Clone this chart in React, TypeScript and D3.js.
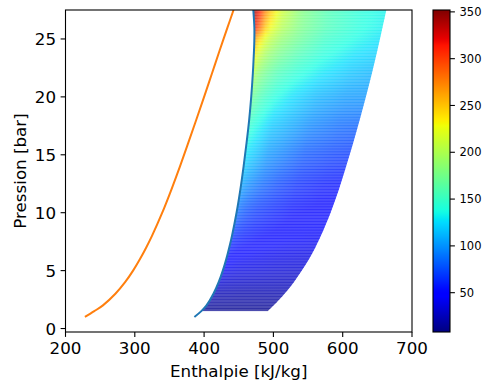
import React from 'react';
import * as d3 from 'd3';

const W = 482;
const H = 383;
const M = { left: 65.5, right: 412, top: 10, bottom: 332 };
const CB = { left: 433, right: 450 };

const xTicks = [200, 300, 400, 500, 600, 700];
const yTicks = [0, 5, 10, 15, 20, 25];
const cbTicks = [50, 100, 150, 200, 250, 300, 350];
const valueMin = 8;
const valueMax = 352;

// saturated liquid line (orange)
const liquidP = [1, 1.5, 2, 3, 4, 5, 6, 7, 8, 10, 12, 14, 16, 18, 20, 22, 24, 26, 27.5];
const liquidH = [228, 241.5, 254, 272, 286, 297.5, 307.5, 316.5, 324.8, 339.6, 352.8, 365.2, 377, 388.6, 400, 411.2, 422.4, 433.8, 442.5];

// saturated vapour line (blue)
const vaporP = [1, 1.5, 2, 3, 4, 5, 6, 7, 8, 10, 12, 14, 16, 18, 20, 22, 24, 25, 26, 27.5];
const vaporH = [386, 396, 403.5, 413.5, 421, 427, 432, 436.3, 440.2, 446.8, 452.3, 457, 461.2, 465, 468, 470.3, 472, 472.5, 472.5, 471];

// right boundary of the coloured region
const rightP = [1.5, 2, 2.5, 3, 3.5, 4, 5, 6, 7, 8, 10, 12, 14, 16, 18, 20, 22, 24, 26, 27.5];
const rightH = [492, 500.5, 508.5, 516, 523, 529.5, 541, 551.5, 560.5, 568.5, 582.5, 594.5, 605, 615, 624.5, 633.5, 642, 650, 657.5, 663];

// coloured field: pressure rows x fractional position between vapour line and right boundary
const gridP = [1.5, 3, 5, 7.5, 10, 12.5, 15, 17.5, 20, 22, 23.5, 25, 26, 27.5];
const gridF = [0, 0.04, 0.1, 0.2, 0.35, 0.55, 0.8, 1];
const gridValues = [
  [12, 12, 11, 11, 11, 11, 11, 11],
  [24, 23, 22, 22, 21, 21, 21, 21],
  [42, 41, 39, 37, 36, 34, 32, 32],
  [63, 60, 56, 53, 49, 46, 44, 42],
  [87, 80, 73, 66, 60, 53, 49, 49],
  [108, 101, 94, 84, 73, 63, 56, 54],
  [128, 122, 115, 101, 91, 77, 70, 66],
  [148, 140, 132, 118, 108, 94, 84, 80],
  [172, 164, 152, 139, 125, 111, 101, 99],
  [200, 185, 172, 156, 142, 128, 115, 108],
  [232, 210, 190, 173, 156, 139, 125, 118],
  [265, 242, 212, 189, 170, 149, 135, 125],
  [315, 285, 236, 203, 177, 156, 139, 130],
  [350, 318, 262, 216, 181, 157, 140, 132],
];

const jr = d3.scaleLinear().domain([0, 0.35, 0.66, 0.89, 1]).range([0, 0, 1, 1, 0.5]).clamp(true);
const jg = d3.scaleLinear().domain([0, 0.125, 0.375, 0.64, 0.91, 1]).range([0, 0, 1, 1, 0, 0]).clamp(true);
const jb = d3.scaleLinear().domain([0, 0.11, 0.34, 0.65, 1]).range([0.5, 1, 1, 0, 0]).clamp(true);
const jetT = (t: number) => d3.rgb(jr(t) * 255, jg(t) * 255, jb(t) * 255).formatHex();
const tScale = d3.scaleLinear().domain([valueMin, valueMax]).range([0, 1]);
const jet = (v: number) => jetT(tScale(v));

const FONT = 'DejaVu Sans, sans-serif';

export default function App() {
  const x = d3.scaleLinear().domain([200, 700]).range([M.left, M.right]);
  const y = d3.scaleLinear().domain([-0.3, 27.5]).range([M.bottom, M.top]);
  const cbY = d3.scaleLinear().domain([valueMin, valueMax]).range([M.bottom, M.top]);

  const leftEdge = d3.scaleLinear().domain(vaporP).range(vaporH).clamp(true);
  const rightEdge = d3.scaleLinear().domain(rightP).range(rightH).clamp(true);
  const colScales = gridF.map((_, j) =>
    d3.scaleLinear().domain(gridP).range(gridValues.map((r) => r[j])).clamp(true)
  );

  const step = 0.25;
  const stripes = d3.range(gridP[0], 27.5 - 1e-9, step).map((p, i) => {
    const pm = p + step / 2;
    const rowScale = d3.scaleLinear().domain(gridF).range(colScales.map((s) => s(pm)));
    const stops = d3.range(0, 1.0001, 1 / 24).map((f) => ({ offset: f, color: jet(rowScale(f)) }));
    const x0 = x(leftEdge(pm));
    const x1 = x(rightEdge(pm));
    const yTop = y(p + step);
    const yBot = y(p);
    return { id: `st${i}`, stops, x0, x1, yTop, yBot };
  });

  const line = d3
    .line<[number, number]>()
    .x((d) => x(d[0]))
    .y((d) => y(d[1]))
    .curve(d3.curveCatmullRom.alpha(0.5));

  const liquidPath = line(liquidP.map((p, i) => [liquidH[i], p]))!;
  const vaporPath = line(vaporP.map((p, i) => [vaporH[i], p]))!;

  // region outline: right boundary upward, then vapour line downward
  const rightPts: [number, number][] = rightP.map((p, i) => [rightH[i], p]);
  const vaporDown: [number, number][] = vaporP
    .map((p, i) => [vaporH[i], p] as [number, number])
    .filter((d) => d[1] >= rightP[0])
    .reverse();
  const regionPath =
    line(rightPts)! + 'L' + line(vaporDown)!.slice(1) + 'Z';

  const cbStops = d3.range(0, 1.0001, 0.01);

  return (
    <svg width={W} height={H} style={{ position: 'absolute', left: 0, top: 0 }}>
      <defs>
        <clipPath id="plotClip">
          <rect x={M.left} y={M.top} width={M.right - M.left} height={M.bottom - M.top} />
        </clipPath>
        <clipPath id="regionClip">
          <path d={regionPath} />
        </clipPath>
        {stripes.map((s) => (
          <linearGradient key={s.id} id={s.id} x1="0" x2="1" y1="0" y2="0">
            {s.stops.map((st, k) => (
              <stop key={k} offset={st.offset} stopColor={st.color} />
            ))}
          </linearGradient>
        ))}
        <linearGradient id="cbGrad" x1="0" x2="0" y1="1" y2="0">
          {cbStops.map((t, k) => (
            <stop key={k} offset={t} stopColor={jetT(t)} />
          ))}
        </linearGradient>
      </defs>
      <rect x={0} y={0} width={W} height={H} fill="#fff" />

      <g clipPath="url(#plotClip)">
        <g clipPath="url(#regionClip)">
          {stripes.map((s) => (
            <rect
              key={s.id}
              x={s.x0}
              y={s.yTop - 0.25}
              width={s.x1 - s.x0 + 4}
              height={s.yBot - s.yTop + 0.5}
              fill={`url(#${s.id})`}
              fillOpacity={0.7}
            />
          ))}
        </g>
        <path d={liquidPath} fill="none" stroke="#ff7f0e" strokeWidth={2} />
        <path d={vaporPath} fill="none" stroke="#1f77b4" strokeWidth={2} />
      </g>

      <rect
        x={M.left}
        y={M.top}
        width={M.right - M.left}
        height={M.bottom - M.top}
        fill="none"
        stroke="#000"
        strokeWidth={1.1}
      />

      {xTicks.map((t) => (
        <g key={`x${t}`}>
          <line x1={x(t)} x2={x(t)} y1={M.bottom} y2={M.bottom + 4.9} stroke="#000" strokeWidth={1.1} />
          <text x={x(t)} y={354} textAnchor="middle" fontFamily={FONT} fontSize={16.7} fill="#000">
            {t}
          </text>
        </g>
      ))}
      {yTicks.map((t) => (
        <g key={`y${t}`}>
          <line x1={M.left - 4.9} x2={M.left} y1={y(t)} y2={y(t)} stroke="#000" strokeWidth={1.1} />
          <text x={M.left - 9.5} y={y(t) + 6} textAnchor="end" fontFamily={FONT} fontSize={16.7} fill="#000">
            {t}
          </text>
        </g>
      ))}
      <text x={(M.left + M.right) / 2} y={376.5} textAnchor="middle" fontFamily={FONT} fontSize={16.7} fill="#000">
        Enthalpie [kJ/kg]
      </text>
      <text
        transform={`translate(26, ${(M.top + M.bottom) / 2}) rotate(-90)`}
        textAnchor="middle"
        fontFamily={FONT}
        fontSize={16.7}
        fill="#000"
      >
        Pression [bar]
      </text>

      <rect x={CB.left} y={M.top} width={CB.right - CB.left} height={M.bottom - M.top} fill="url(#cbGrad)" />
      <rect
        x={CB.left}
        y={M.top}
        width={CB.right - CB.left}
        height={M.bottom - M.top}
        fill="none"
        stroke="#000"
        strokeWidth={1.1}
      />
      {cbTicks.map((t) => (
        <g key={`c${t}`}>
          <line x1={CB.right} x2={CB.right + 4.9} y1={cbY(t)} y2={cbY(t)} stroke="#000" strokeWidth={1.1} />
          <text x={CB.right + 9.5} y={cbY(t) + 4.2} fontFamily={FONT} fontSize={11.5} fill="#000">
            {t}
          </text>
        </g>
      ))}
    </svg>
  );
}
